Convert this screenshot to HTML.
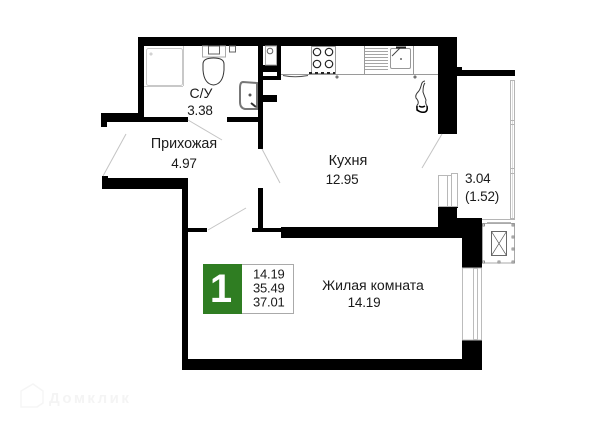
<!DOCTYPE html>
<html><head><meta charset="utf-8"><style>
html,body{margin:0;padding:0;background:#fff;width:600px;height:424px;overflow:hidden}
svg{display:block}
text{font-family:"Liberation Sans",sans-serif;fill:#1a1a1a;font-size:14px}
.d{font-size:13.500px;letter-spacing:-.2px}
</style></head><body>
<svg width="600" height="424" viewBox="0 0 600 424" xmlns="http://www.w3.org/2000/svg">
<!-- walls -->
<g fill="#000">
<rect x="138" y="37" width="319" height="9"/>
<rect x="138" y="37" width="6" height="85"/>
<rect x="101" y="113" width="43" height="9"/>
<rect x="101" y="113" width="6" height="14"/>
<rect x="144" y="117" width="44" height="5"/>
<rect x="227" y="117" width="36" height="5"/>
<rect x="258" y="46" width="5" height="103"/>
<rect x="263" y="95" width="14" height="7"/>
<rect x="262" y="65" width="15" height="7"/>
<rect x="258" y="76" width="23" height="4"/>
<rect x="277" y="46" width="4" height="34"/>
<rect x="438" y="37" width="19" height="97"/>
<rect x="457" y="70" width="58" height="6"/>
<rect x="457" y="67" width="5" height="6"/>
<rect x="102" y="176" width="6" height="13"/>
<rect x="102" y="178" width="86" height="11"/>
<rect x="182" y="178" width="6" height="192"/>
<rect x="188" y="228" width="19" height="4"/>
<rect x="252" y="228" width="29" height="4"/>
<rect x="258" y="188" width="5" height="42"/>
<rect x="281" y="227" width="181" height="11"/>
<rect x="438" y="206" width="19" height="21"/>
<rect x="451" y="205" width="7" height="3"/>
<rect x="457" y="218" width="25" height="20"/>
<rect x="462" y="218" width="20" height="50"/>
<rect x="462" y="340" width="20" height="30"/>
<rect x="182" y="359" width="300" height="11"/>
</g>
<!-- door lines -->
<g stroke="#c4c4c4" stroke-width="1" fill="none">
<line x1="126" y1="134" x2="103" y2="176"/>
<line x1="188" y1="120" x2="222" y2="140"/>
<line x1="262" y1="149" x2="280" y2="183"/>
<line x1="442" y1="134" x2="422" y2="168"/>
<line x1="208" y1="230" x2="246" y2="208"/>
</g>
<!-- shower -->
<g fill="none" stroke="#c8c8c8">
<rect x="146.500" y="48.500" width="36" height="37" rx="2"/>
<line x1="144" y1="86.500" x2="183" y2="86.500"/>
<line x1="183.500" y1="46" x2="183.500" y2="86"/>
<circle cx="151" cy="54" r="1"/>
</g>
<!-- toilet -->
<g fill="#fff" stroke-width="1">
<rect x="202.500" y="46" width="23" height="11" stroke="#aaa"/>
<rect x="208.500" y="46" width="11" height="8" stroke="#666"/>
<path d="M203 64 Q203 58 213.500 58 Q224 58 224 64 V70 Q223 84 213.500 85 Q204 84 203 70 Z" stroke="#333"/>
<rect x="229.500" y="46" width="6" height="6" stroke="#666"/>
</g>
<!-- bathroom sink -->
<g fill="#fff" stroke="#777">
<path d="M243 82 L257 83 V109 L245 109 Q240 108 240 102 V88 Q240 82 243 82 Z" stroke-width="2"/>
<circle cx="250" cy="95" r="1.500" fill="#555" stroke="none"/>
<line x1="251" y1="103" x2="256" y2="107" stroke="#333" stroke-width="2"/>
</g>
<!-- washer nook -->
<g fill="none">
<rect x="265.500" y="46" width="11" height="19" stroke="#aaa"/>
<circle cx="270" cy="51" r="2.800" stroke="#666"/>
</g>
<!-- kitchen counter -->
<g fill="none" stroke="#9a9a9a">
<line x1="281" y1="74.500" x2="438" y2="74.500"/>
<line x1="335.500" y1="46" x2="335.500" y2="75"/>
<line x1="364.500" y1="46" x2="364.500" y2="75"/>
<line x1="413.500" y1="46" x2="413.500" y2="75"/>
</g>
<path d="M283 75.500 Q295 78 308 75.500" fill="none" stroke="#555"/>
<!-- stove -->
<g fill="none" stroke="#222" stroke-width="1.200">
<rect x="311.500" y="46.500" width="24" height="27" stroke="#999" stroke-width="1"/>
<circle cx="317" cy="52" r="3.700"/><circle cx="329" cy="52" r="3.700"/>
<circle cx="317" cy="64" r="3.700"/><circle cx="329" cy="64" r="3.700"/>
<line x1="309" y1="73" x2="335" y2="73" stroke-width="2" stroke-dasharray="3 3"/>
</g>
<!-- drain + sink -->
<g stroke="#999" fill="none">
<path d="M365 48.500H388M365 51.500H388M365 54.500H388M365 57.500H388M365 60.500H388M365 63.500H388M365 66.500H388M365 69.500H388" stroke="#a5a5a5"/>
<rect x="390.500" y="48.500" width="20" height="20" rx="1.500"/>
<circle cx="401" cy="59" r="1" fill="#666" stroke="none"/>
<line x1="392" y1="56" x2="401" y2="47" stroke="#444"/>
<line x1="396" y1="47.500" x2="406" y2="47.500" stroke="#222" stroke-width="2"/>
</g>
<circle cx="337" cy="77" r="1" fill="none" stroke="#555"/>
<circle cx="415" cy="77" r="1" fill="none" stroke="#555"/>
<!-- kitchen plant -->
<path d="M425 81 Q422 81 421 86 Q420 90 418 92 Q415 95 416 98 Q419 101 418 104 Q416 106 417 109 Q420 113 425 112 Q428 110 427 106 Q425 103 426 100 Q424 95 423 92 Q423 85 425 83" fill="#fff" stroke="#333"/>
<path d="M417 106 V110 Q421 113 425 112 Q428 111 427 106 M419 106 Q422 108 425 106" fill="none" stroke="#000" stroke-width="1.500"/>
<!-- window kitchen -->
<g fill="#fff" stroke="#b8b8b8">
<rect x="438.500" y="175.500" width="13" height="31"/>
<rect x="451.500" y="173.500" width="6" height="33"/>
<line x1="447.500" y1="175" x2="447.500" y2="206"/>
</g>
<!-- balcony rail -->
<g fill="#fff" stroke="#b5b5b5">
<rect x="510.500" y="80.500" width="4" height="138"/>
<line x1="512.500" y1="81" x2="512.500" y2="218" stroke="#ddd"/>
<line x1="510" y1="120.500" x2="515" y2="120.500"/>
<line x1="510" y1="124.500" x2="515" y2="124.500"/>
<line x1="510" y1="168.500" x2="515" y2="168.500"/>
<line x1="510" y1="173.500" x2="515" y2="173.500"/>
<line x1="482" y1="219.500" x2="515" y2="219.500"/>
<line x1="487" y1="222.500" x2="511" y2="222.500"/>
</g>
<!-- balcony box -->
<rect x="482.500" y="223.500" width="32" height="39.500" fill="#fff" stroke="#aaa"/>
<rect x="491.500" y="231.500" width="15" height="24" fill="#fff" stroke="#444" stroke-width=".8"/>
<path d="M491.500 231.500L506.500 255.500M506.500 231.500L491.500 255.500" stroke="#555" stroke-width=".7"/>
<g fill="#fff" stroke="#777" stroke-width=".8">
<rect x="482.500" y="261" width="2" height="2"/><rect x="498" y="261" width="2" height="2"/><rect x="512" y="261" width="2" height="2"/>
<rect x="512" y="224" width="2" height="2"/><rect x="512" y="236" width="2" height="2"/><rect x="512" y="248" width="2" height="2"/>
<rect x="482.500" y="224" width="2" height="2"/>
</g>
<!-- living window -->
<g fill="#fff" stroke="#bcbcbc">
<rect x="462.500" y="268" width="19" height="72"/>
<rect x="473.500" y="268.500" width="4" height="71"/>
</g>
<!-- labels -->
<text x="201" y="98" text-anchor="middle">С/У</text>
<text x="200" y="115" text-anchor="middle" class="d">3.38</text>
<text x="184" y="148" text-anchor="middle" style="font-size:14.300px">Прихожая</text>
<text x="184" y="168" text-anchor="middle" class="d">4.97</text>
<text x="348" y="165" text-anchor="middle" style="font-size:14.500px">Кухня</text>
<text x="342" y="184" text-anchor="middle" class="d">12.95</text>
<text x="465" y="183" class="d">3.04</text>
<text x="465" y="201" class="d">(1.52)</text>
<text x="373" y="290" text-anchor="middle" style="font-size:14.100px">Жилая комната</text>
<text x="364" y="307" text-anchor="middle" class="d">14.19</text>
<!-- badge -->
<rect x="203.500" y="264.500" width="90" height="49" fill="#fff" stroke="#aaa"/>
<rect x="203" y="264" width="39" height="50" fill="#2f7d22"/>
<text x="221" y="302" text-anchor="middle" style="font-size:40px;font-weight:bold;fill:#fff">1</text>
<text x="253" y="278.500" class="d" style="font-size:13px">14.19</text>
<text x="253" y="292.500" class="d" style="font-size:13px">35.49</text>
<text x="253" y="306.500" class="d" style="font-size:13px">37.01</text>
<!-- watermark -->
<path d="M21 399V391L33 384L43 391V403L37 407H21Z" fill="none" stroke="#f5f5f5" stroke-width="1.500"/>
<text x="49" y="403" style="font-size:15px;font-weight:bold;fill:#f4f4f4;letter-spacing:2.500px">Домклик</text>
</svg>
</body></html>
